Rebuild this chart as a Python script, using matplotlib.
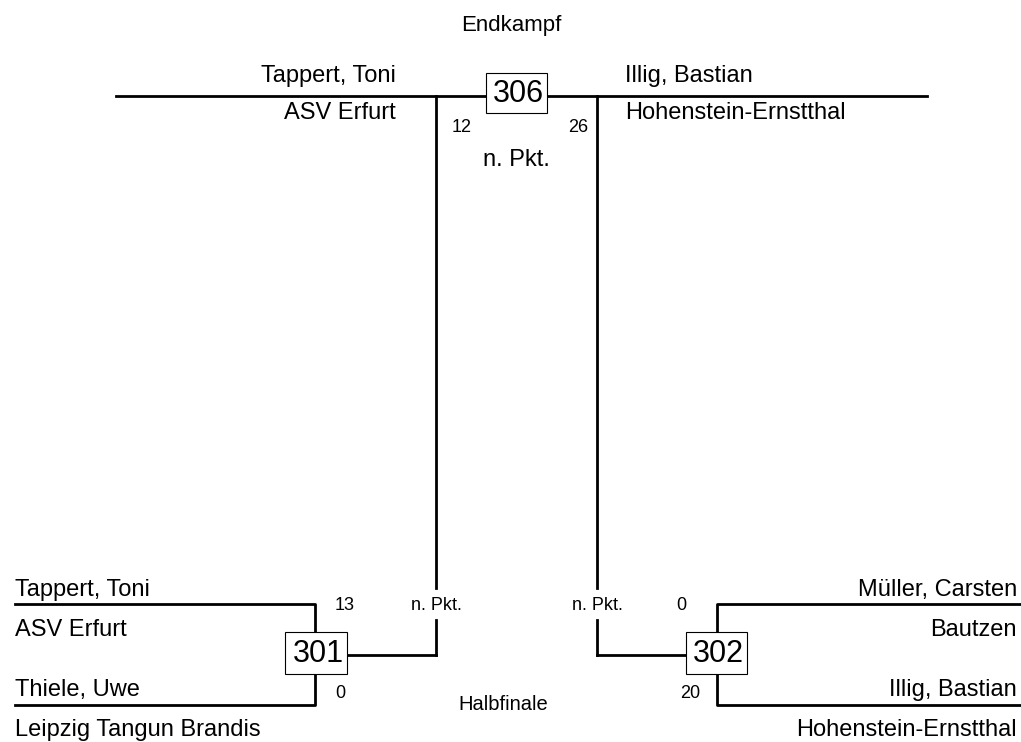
import matplotlib
matplotlib.use("Agg")
import matplotlib.pyplot as plt

plt.rcParams['font.family'] = ['Liberation Sans', 'DejaVu Sans']

# data
round_titles = ["Endkampf", "Halbfinale"]
match_ids = ["306", "301", "302"]
final_players = ["Tappert, Toni", "Illig, Bastian"]
final_clubs = ["ASV Erfurt", "Hohenstein-Ernstthal"]
final_scores = ["12", "26"]
semi1_players = ["Tappert, Toni", "Thiele, Uwe"]
semi1_clubs = ["ASV Erfurt", "Leipzig Tangun Brandis"]
semi1_scores = ["13", "0"]
semi2_players = ["Müller, Carsten", "Illig, Bastian"]
semi2_clubs = ["Bautzen", "Hohenstein-Ernstthal"]
semi2_scores = ["0", "20"]
win_note = "n. Pkt."

fig = plt.figure(figsize=(10.21, 7.42), dpi=100)
ax = fig.add_axes([0, 0, 1, 1])
ax.set_xlim(0, 1021)
ax.set_ylim(742, 0)
ax.axis('off')

lw = 2.0
name_fs = 17
small_fs = 13
box_fs = 22
k = dict(color='black', lw=lw, solid_capstyle='projecting')


def box(x0, y0, x1, y1, label):
    ax.add_patch(plt.Rectangle((x0, y0), x1 - x0, y1 - y0, fill=True,
                               facecolor='white', edgecolor='black', lw=0.8, zorder=3))
    ax.text((x0 + x1) / 2 + 2, (y0 + y1) / 2 + 1, label, fontsize=box_fs,
            ha='center', va='center', zorder=4)


# final
ax.text(511, 25, round_titles[0], fontsize=16, ha='center', va='center')
ax.plot([116, 927], [96, 96], **k)
ax.plot([436, 436], [96, 588], **k)
ax.plot([436, 436], [620, 655], **k)
ax.plot([597, 597], [96, 588], **k)
ax.plot([597, 597], [620, 655], **k)
box(486, 73, 547, 113, match_ids[0])
ax.text(396, 76, final_players[0], fontsize=name_fs, ha='right', va='center')
ax.text(396, 113, final_clubs[0], fontsize=name_fs, ha='right', va='center')
ax.text(625, 76, final_players[1], fontsize=name_fs, ha='left', va='center')
ax.text(625, 113, final_clubs[1], fontsize=name_fs, ha='left', va='center')
ax.text(462, 128, final_scores[0], fontsize=small_fs, ha='center', va='center')
ax.text(578, 128, final_scores[1], fontsize=small_fs, ha='center', va='center')
ax.text(516, 160, win_note, fontsize=name_fs, ha='center', va='center')

# semifinal 1
ax.plot([15, 315, 315], [604, 604, 632], **k)
ax.plot([15, 315, 315], [705, 705, 674], **k)
ax.plot([347, 436], [655, 655], **k)
box(285, 632, 347, 674, match_ids[1])
ax.text(15, 590, semi1_players[0], fontsize=name_fs, ha='left', va='center')
ax.text(15, 630, semi1_clubs[0], fontsize=name_fs, ha='left', va='center')
ax.text(15, 690, semi1_players[1], fontsize=name_fs, ha='left', va='center')
ax.text(15, 730, semi1_clubs[1], fontsize=name_fs, ha='left', va='center')
ax.text(345, 605, semi1_scores[0], fontsize=small_fs, ha='center', va='center')
ax.text(340, 693, semi1_scores[1], fontsize=small_fs, ha='center', va='center')
ax.text(436, 605, win_note, fontsize=small_fs, ha='center', va='center')

# semifinal 2
ax.plot([1021, 717, 717], [604, 604, 632], **k)
ax.plot([1021, 717, 717], [705, 705, 674], **k)
ax.plot([597, 686], [655, 655], **k)
box(686, 632, 747, 674, match_ids[2])
ax.text(1017, 590, semi2_players[0], fontsize=name_fs, ha='right', va='center')
ax.text(1017, 630, semi2_clubs[0], fontsize=name_fs, ha='right', va='center')
ax.text(1017, 690, semi2_players[1], fontsize=name_fs, ha='right', va='center')
ax.text(1017, 730, semi2_clubs[1], fontsize=name_fs, ha='right', va='center')
ax.text(681, 605, semi2_scores[0], fontsize=small_fs, ha='center', va='center')
ax.text(690, 693, semi2_scores[1], fontsize=small_fs, ha='center', va='center')
ax.text(597, 605, win_note, fontsize=small_fs, ha='center', va='center')

ax.text(503, 705, round_titles[1], fontsize=14.5, ha='center', va='center')

fig.savefig("out.png", dpi=100)
